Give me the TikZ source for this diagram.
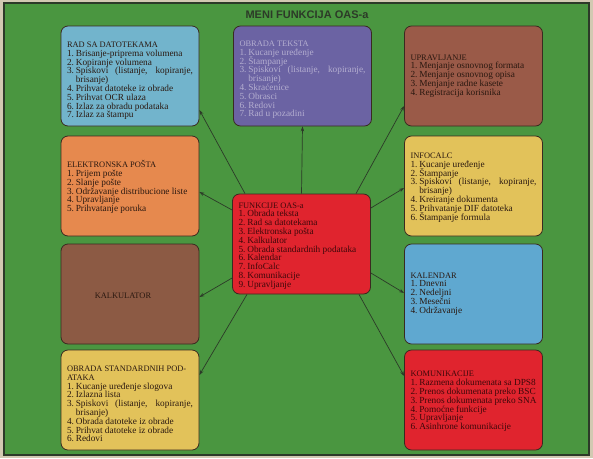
\documentclass[tikz,border=0pt]{standalone}
\usepackage{fontspec}
\setmainfont{Liberation Serif}
\newfontfamily\titlefont{Liberation Sans}
\usetikzlibrary{calc,arrows.meta}
\definecolor{paper}{HTML}{D2C9B2}
\definecolor{bggreen}{HTML}{4A9640}
\definecolor{frame}{HTML}{2C3A28}
\definecolor{edge}{HTML}{3A2A20}
\definecolor{ink}{HTML}{2A1810}
\definecolor{cblue}{HTML}{72B4CC}
\definecolor{cpurple}{HTML}{6B63A3}
\definecolor{cbrownA}{HTML}{9A5A48}
\definecolor{corange}{HTML}{E6894E}
\definecolor{cyellow}{HTML}{E2C25A}
\definecolor{cbrownB}{HTML}{8C5A44}
\definecolor{cblueB}{HTML}{5FA8D0}
\definecolor{cred}{HTML}{E0242E}
\definecolor{lightink}{HTML}{B4AED0}
\definecolor{redink}{HTML}{3E080A}
\newcommand{\tightlines}{\lineskiplimit=-100pt\relax\lineskip=0pt\relax}
\newcommand{\hd}[1]{\tightlines\noindent{\fontsize{8.4}{8.8}\selectfont #1}\par}
\newcommand{\li}[2]{\tightlines\hangindent=8.8pt\hangafter=1\noindent\makebox[8.8pt][l]{#1.}#2\par}
\tikzset{
  menubox/.style={draw=edge, line width=0.8pt, rounded corners=7pt,
    minimum width=138pt, minimum height=100pt, inner sep=0pt},
  menutext/.style={text width=126pt, inner sep=0pt, align=justify, text=ink,
    font=\fontsize{9.3}{8.8}\selectfont},
  link/.style={draw=frame, line width=0.7pt, -{Stealth[length=5pt,width=3.5pt]}}
}
\begin{document}
\begin{tikzpicture}[x=1pt,y=-1pt]
\path[use as bounding box, fill=paper] (0,0) rectangle (593,458);
\fill[bggreen, draw=frame, line width=1.2pt] (4,3) rectangle (589,455);
\node[font=\titlefont\bfseries\fontsize{11}{12}\selectfont, text=frame] (title) at (307,15) {MENI FUNKCIJA OAS-a};

% boxes
\node[menubox, fill=cblue]   (rad)   at (130,76) {};
\node[menubox, fill=cpurple] (tekst) at (302.5,76) {};
\node[menubox, fill=cbrownA] (upr)   at (473.5,76) {};
\node[menubox, fill=corange] (posta) at (130,186) {};
\node[menubox, fill=cyellow] (info)  at (473.5,186) {};
\node[menubox, fill=cred]    (oas)   at (301.5,244) {};
\node[menubox, fill=cbrownB] (kalk)  at (130,294) {};
\node[menubox, fill=cblueB]  (kal)   at (473.5,294) {};
\node[menubox, fill=cyellow] (std)   at (130,400) {};
\node[menubox, fill=cred]    (kom)   at (473.5,400) {};

% texts
\node[menutext] (rad-t) at ($(rad.center)+(0,5)$) {%
\hd{RAD SA DATOTEKAMA}
\li{1}{Brisanje-priprema volumena}
\li{2}{Kopiranje volumena}
\li{3}{Spiskovi (listanje, kopiranje,\linebreak brisanje)}
\li{4}{Prihvat datoteke iz obrade}
\li{5}{Prihvat OCR ulaza}
\li{6}{Izlaz za obradu podataka}
\li{7}{Izlaz za štampu}};

\node[menutext, text=lightink] (tekst-t) at ($(tekst.center)+(0,4)$) {%
\hd{OBRADA TEKSTA}
\li{1}{Kucanje uređenje}
\li{2}{Štampanje}
\li{3}{Spiskovi (listanje, kopiranje,\linebreak brisanje)}
\li{4}{Skraćenice}
\li{5}{Obrasci}
\li{6}{Redovi}
\li{7}{Rad u pozadini}};

\node[menutext] (upr-t) at ($(upr.center)+(0,0)$) {%
\hd{UPRAVLJANJE}
\li{1}{Menjanje osnovnog formata}
\li{2}{Menjanje osnovnog opisa}
\li{3}{Menjanje radne kasete}
\li{4}{Registracija korisnika}};

\node[menutext] (posta-t) at ($(posta.center)+(0,1)$) {%
\hd{ELEKTRONSKA POŠTA}
\li{1}{Prijem pošte}
\li{2}{Slanje pošte}
\li{3}{Održavanje distribucione liste}
\li{4}{Upravljanje}
\li{5}{Prihvatanje poruka}};

\node[menutext] (info-t) at ($(info.center)+(0,1.5)$) {%
\hd{INFOCALC}
\li{1}{Kucanje uređenje}
\li{2}{Štampanje}
\li{3}{Spiskovi (listanje, kopiranje,\linebreak brisanje)}
\li{4}{Kreiranje dokumenta}
\li{5}{Prihvatanje DIF datoteka}
\li{6}{Štampanje formula}};

\node[menutext, text=redink] (oas-t) at ($(oas.center)+(0,2)$) {%
\hd{FUNKCIJE OAS-a}
\li{1}{Obrada teksta}
\li{2}{Rad sa datotekama}
\li{3}{Elektronska pošta}
\li{4}{Kalkulator}
\li{5}{Obrada standardnih podataka}
\li{6}{Kalendar}
\li{7}{InfoCalc}
\li{8}{Komunikacije}
\li{9}{Upravljanje}};

\node[font=\fontsize{8.4}{8.8}\selectfont, text=ink, inner sep=0pt, anchor=west] (kalk-t) at ($(kalk.west)+(34,2)$) {KALKULATOR};

\node[menutext] (kal-t) at ($(kal.center)+(0,0)$) {%
\hd{KALENDAR}
\li{1}{Dnevni}
\li{2}{Nedeljni}
\li{3}{Mesečni}
\li{4}{Održavanje}};

\node[menutext] (std-t) at ($(std.center)+(0,4)$) {%
\hd{OBRADA STANDARDNIH POD-\\ATAKA}
\li{1}{Kucanje uređenje slogova}
\li{2}{Izlazna lista}
\li{3}{Spiskovi (listanje, kopiranje,\linebreak brisanje)}
\li{4}{Obrada datoteke iz obrade}
\li{5}{Prihvat datoteke iz obrade}
\li{6}{Redovi}};

\node[menutext, text=redink] (kom-t) at ($(kom.center)+(0,1.5)$) {%
\hd{KOMUNIKACIJE}
\li{1}{Razmena dokumenata sa DPS8}
\li{2}{Prenos dokumenata preko BSC}
\li{3}{Prenos dokumenata preko SNA}
\li{4}{Pomoćne funkcije}
\li{5}{Upravljanje}
\li{6}{Asinhrone komunikacije}};

% connectors
\draw[link] ($(oas.north)+(-56.5,0)$) -- ($(rad.east)+(0,34)$);
\draw[link] (oas.north) -- (tekst.south);
\draw[link] ($(oas.north)+(54.5,0)$) -- ($(upr.west)+(0,30)$);
\draw[link] ($(oas.west)+(0,-34)$) -- ($(posta.east)+(0,6)$);
\draw[link] ($(oas.east)+(0,-36)$) -- ($(info.west)+(0,2)$);
\draw[link] ($(oas.west)+(0,34)$) -- ($(kalk.east)+(0,3)$);
\draw[link] ($(oas.east)+(0,29)$) -- ($(kal.west)+(0,-1)$);
\draw[link] ($(oas.south)+(-54.5,0)$) -- ($(std.east)+(0,-25)$);
\draw[link] ($(oas.south)+(57.5,0)$) -- ($(kom.west)+(0,-24)$);
\end{tikzpicture}
\end{document}
